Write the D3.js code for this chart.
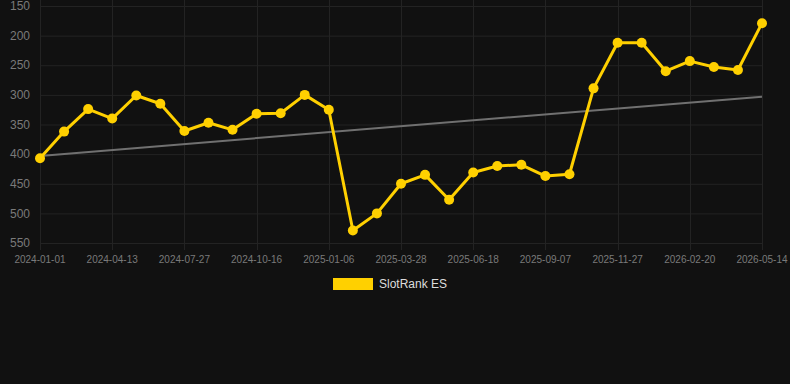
<!DOCTYPE html>
<html>
<head>
<meta charset="utf-8">
<script src="https://cdn.jsdelivr.net/npm/d3@7"></script>
<style>
  html, body { margin: 0; padding: 0; background: #111111; }
  svg { display: block; font-family: 'Liberation Sans', Arial, sans-serif; }
</style>
</head>
<body>
<svg width="790" height="384"></svg>
<script>
// data
const dates = [
  '2024-01-01', '2024-02-04', '2024-03-10', '2024-04-13', '2024-05-18', '2024-06-22',
  '2024-07-27', '2024-08-23', '2024-09-19', '2024-10-16', '2024-11-12', '2024-12-10',
  '2025-01-06', '2025-02-03', '2025-03-01', '2025-03-28', '2025-04-24', '2025-05-22',
  '2025-06-18', '2025-07-15', '2025-08-11', '2025-09-07', '2025-10-04', '2025-10-31',
  '2025-11-27', '2025-12-25', '2026-01-22', '2026-02-20', '2026-03-18', '2026-04-16',
  '2026-05-14'
];
const ranks = [
  407, 362, 324, 340, 301, 315, 361, 347, 359, 332, 331, 300,
  325, 529, 500, 450, 435, 477, 431, 420, 418, 437, 434, 289,
  212, 212, 260, 243, 253, 258, 179
];
const trendEnds = [403, 303];
const yTicks = [150, 200, 250, 300, 350, 400, 450, 500, 550];
const seriesName = 'SlotRank ES';

var svg = d3.select('svg');

const x = d3.scalePoint().domain(dates).range([40, 762]);
const y = d3.scaleLinear().domain([150, 550]).range([6, 243]);

const grid = svg.append('g');

// horizontal grid
grid.selectAll('line.h')
  .data(yTicks)
  .enter()
  .append('line')
  .attr('x1', 40)
  .attr('x2', 762)
  .attr('y1', (d) => y(d) + 0.5)
  .attr('y2', (d) => y(d) + 0.5)
  .attr('stroke', '#232323')
  .attr('stroke-width', 1);

// vertical grid, every 3rd date has a label
const xLabels = dates.filter((d, i) => i % 3 === 0);
grid.selectAll('line.v')
  .data(xLabels)
  .enter()
  .append('line')
  .attr('x1', (d) => Math.round(x(d)) + 0.5)
  .attr('x2', (d) => Math.round(x(d)) + 0.5)
  .attr('y1', 0)
  .attr('y2', 250)
  .attr('stroke', '#232323')
  .attr('stroke-width', 1);

// y labels
svg.append('g')
  .selectAll('text')
  .data(yTicks)
  .enter()
  .append('text')
  .attr('x', 30)
  .attr('y', (d) => y(d))
  .attr('dy', '0.35em')
  .attr('text-anchor', 'end')
  .attr('font-size', '12px')
  .attr('fill', '#7a7a7a')
  .text((d) => d);

// x labels
svg.append('g')
  .selectAll('text')
  .data(xLabels)
  .enter()
  .append('text')
  .attr('x', (d) => x(d))
  .attr('y', 263)
  .attr('text-anchor', 'middle')
  .attr('font-size', '10px')
  .attr('fill', '#7a7a7a')
  .text((d) => d);

// trend line
svg.append('line')
  .attr('x1', x(dates[0]))
  .attr('y1', y(trendEnds[0]))
  .attr('x2', x(dates[dates.length - 1]))
  .attr('y2', y(trendEnds[1]))
  .attr('stroke', '#707070')
  .attr('stroke-width', 2);

// rank line
const line = d3.line()
  .x((d, i) => x(dates[i]))
  .y((d) => y(d));

svg.append('path')
  .datum(ranks)
  .attr('d', line)
  .attr('fill', 'none')
  .attr('stroke', '#ffd000')
  .attr('stroke-width', 3)
  .attr('stroke-linejoin', 'round');

svg.append('g')
  .selectAll('circle')
  .data(ranks)
  .enter()
  .append('circle')
  .attr('cx', (d, i) => x(dates[i]))
  .attr('cy', (d) => y(d))
  .attr('r', 5)
  .attr('fill', '#ffd000');

// legend
svg.append('rect')
  .attr('x', 333)
  .attr('y', 278)
  .attr('width', 40)
  .attr('height', 12)
  .attr('fill', '#ffd000');

svg.append('text')
  .attr('x', 379)
  .attr('y', 284)
  .attr('dy', '0.35em')
  .attr('font-size', '12px')
  .attr('fill', '#dddddd')
  .text(seriesName);
</script>
</body>
</html>
